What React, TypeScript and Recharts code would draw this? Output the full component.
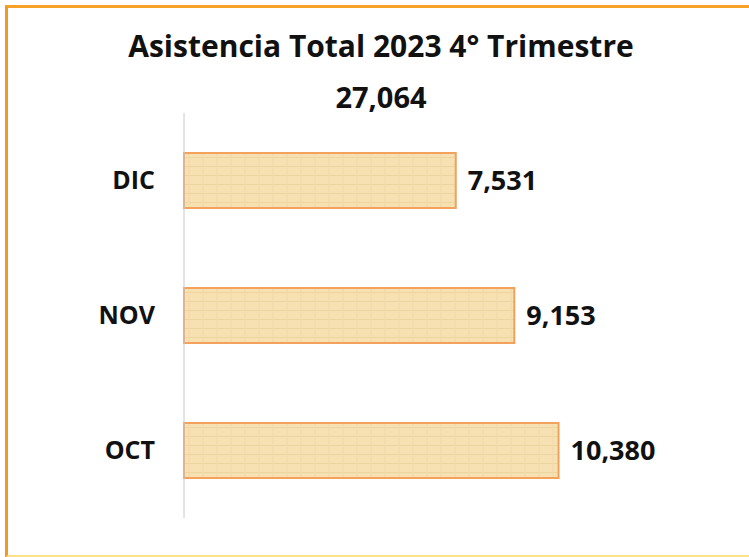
import React from "react";
import { BarChart, Bar, XAxis, YAxis, LabelList } from "recharts";

const months = ["DIC", "NOV", "OCT"];
const attendance = [7531, 9153, 10380];
const titleText = "Asistencia Total 2023 4° Trimestre";
const totalText = "27,064";

const data = months.map((m, i) => ({ month: m, value: attendance[i] }));

const fmt = (v: number) => v.toLocaleString("en-US");

const FONT = "'Open Sans', 'Liberation Sans', sans-serif";

export default function App() {
  return (
    <div style={{ position: "absolute", left: 0, top: 0, width: 749, height: 557, background: "#fff", overflow: "hidden" }}>
      <div
        style={{
          position: "absolute",
          left: 5,
          top: 5,
          width: 760,
          height: 547,
          borderLeft: "3px solid #F39A1E",
          borderTop: "3px solid #F7A128",
          borderBottom: "3px solid #FCE08A",
        }}
      />
      <div
        style={{
          position: "absolute",
          left: 0,
          width: 762,
          top: 26,
          textAlign: "center",
          fontFamily: FONT,
          fontWeight: 700,
          fontSize: 30,
          color: "#111",
          lineHeight: "40px",
          whiteSpace: "nowrap",
        }}
      >
        {titleText}
      </div>
      <div
        style={{
          position: "absolute",
          left: 0,
          width: 762,
          top: 77,
          textAlign: "center",
          fontFamily: FONT,
          fontWeight: 700,
          fontSize: 29,
          color: "#111",
          lineHeight: "40px",
        }}
      >
        {totalText}
      </div>
      <BarChart
        width={749}
        height={557}
        layout="vertical"
        data={data}
        margin={{ top: 113, right: 132, bottom: 39, left: 0 }}
        style={{ position: "absolute", left: 0, top: 0 }}
      >
        <defs>
          <pattern id="papyrus" width="14" height="9" patternUnits="userSpaceOnUse">
            <rect width="14" height="9" fill="#F7E1B2" />
            <path d="M0 4.5 H14" stroke="#EDD59F" strokeWidth="1" />
            <path d="M7 0 V9" stroke="#F0DAA8" strokeWidth="1" />
          </pattern>
        </defs>
        <XAxis type="number" domain={[0, 12000]} hide />
        <YAxis
          type="category"
          dataKey="month"
          width={184}
          axisLine={{ stroke: "#C8C8C8", strokeWidth: 1 }}
          tickLine={false}
          tickMargin={23}
          tick={{ fill: "#111", fontSize: 25, fontWeight: 700, fontFamily: FONT }}
        />
        <Bar
          dataKey="value"
          barSize={55}
          fill="url(#papyrus)"
          stroke="#F2A25C"
          strokeWidth={2}
          isAnimationActive={false}
        >
          <LabelList
            dataKey="value"
            position="right"
            offset={12}
            formatter={(v: any) => fmt(Number(v))}
            style={{ fill: "#111", fontSize: 27, fontWeight: 700, fontFamily: FONT }}
          />
        </Bar>
      </BarChart>
    </div>
  );
}
